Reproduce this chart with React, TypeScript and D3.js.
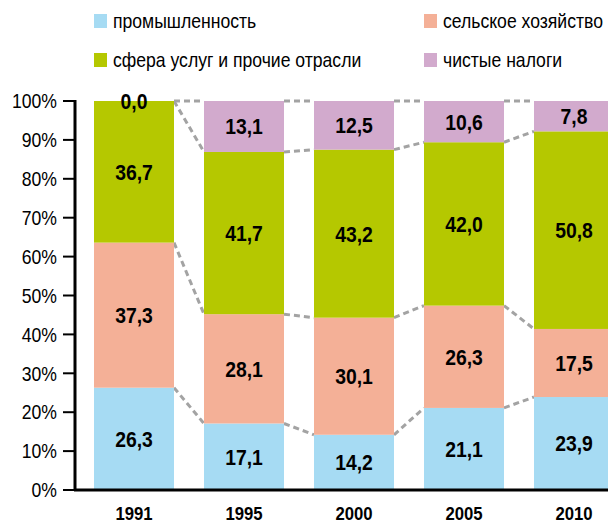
import React from 'react';
import * as d3 from 'd3';

const years = ['1991', '1995', '2000', '2005', '2010'];
const seriesNames = ['промышленность', 'сельское хозяйство', 'сфера услуг и прочие отрасли', 'чистые налоги'];
const industry = [26.3, 17.1, 14.2, 21.1, 23.9];
const agriculture = [37.3, 28.1, 30.1, 26.3, 17.5];
const services = [36.7, 41.7, 43.2, 42.0, 50.8];
const taxes = [0.0, 13.1, 12.5, 10.6, 7.8];
const yTicks = [0, 10, 20, 30, 40, 50, 60, 70, 80, 90, 100];
const colors = ['#a6dbf3', '#f4b097', '#b5c800', '#d2aacd'];

const W = 608;
const H = 523;
const FONT = "'Liberation Sans', Arial, sans-serif";
const NARROW = 0.88; // mimic a condensed face

// text squeezed horizontally around its anchor point
const T = ({ x, y, children, ...rest }: any) => (
  <text transform={`translate(${x},${y}) scale(${NARROW},1)`} {...rest}>{children}</text>
);

export default function App() {
  const series = [industry, agriculture, services, taxes];
  const rows = years.map((y, i) => ({ year: y, s0: industry[i], s1: agriculture[i], s2: services[i], s3: taxes[i] }));
  const stack = d3.stack<any>().keys(['s0', 's1', 's2', 's3'])(rows);

  const x = d3.scaleBand().domain(years).range([79, 629]).paddingInner(30 / 110).paddingOuter(15 / 110);
  const y = d3.scaleLinear().domain([0, 100]).range([490, 101]);
  const bw = x.bandwidth();
  const top = (v: number) => y(Math.min(v, 100));

  // dashed connectors between stack boundaries
  const connectors: any[] = [];
  stack.forEach((layer, k) => {
    for (let i = 0; i < years.length - 1; i++) {
      connectors.push(
        <line key={`c${k}-${i}`}
          x1={x(years[i])! + bw} y1={top(layer[i][1])}
          x2={x(years[i + 1])!} y2={top(layer[i + 1][1])}
          stroke="#a3a3a3" strokeWidth={3} strokeDasharray="6,4" />
      );
    }
  });

  const legendPos = [
    { x: 94, y: 21 }, { x: 424, y: 21 },
    { x: 94, y: 60 }, { x: 424, y: 60 },
  ];

  return (
    <svg width={W} height={H} style={{ position: 'absolute', left: 0, top: 0, background: '#fff' }} fontFamily={FONT}>
      {connectors}
      {stack.map((layer, k) => (
        <g key={k}>
          {layer.map((d, i) => (
            <rect key={i} x={x(years[i])} width={bw}
              y={top(d[1])} height={top(d[0]) - top(d[1])} fill={colors[k]} />
          ))}
        </g>
      ))}
      {stack.map((layer, k) => (
        <g key={`t${k}`}>
          {layer.map((d, i) => (
            <T key={i} x={x(years[i])! + bw / 2} y={(top(d[0]) + top(d[1])) / 2}
              dy="0.36em" textAnchor="middle" fontSize={22} fontWeight="bold" fill="#000">
              {series[k][i].toFixed(1).replace('.', ',')}
            </T>
          ))}
        </g>
      ))}
      {/* axes */}
      <line x1={75} x2={75} y1={100} y2={491} stroke="#000" strokeWidth={3} />
      <line x1={74} x2={W} y1={490} y2={490} stroke="#000" strokeWidth={3} />
      {yTicks.map(t => (
        <g key={t}>
          <line x1={63} x2={75} y1={y(t)} y2={y(t)} stroke="#000" strokeWidth={2} />
          <T x={57} y={y(t)} dy="0.36em" textAnchor="end" fontSize={20} fill="#000">{t}%</T>
        </g>
      ))}
      {years.map(yr => (
        <T key={yr} x={x(yr)! + bw / 2} y={520} textAnchor="middle" fontSize={19} fontWeight="bold" fill="#000">{yr}</T>
      ))}
      {seriesNames.map((n, k) => (
        <g key={n}>
          <rect x={legendPos[k].x} y={legendPos[k].y - 7} width={13} height={14} fill={colors[k]} />
          <T x={legendPos[k].x + 19} y={legendPos[k].y} dy="0.36em" fontSize={20} fill="#000">{n}</T>
        </g>
      ))}
    </svg>
  );
}
